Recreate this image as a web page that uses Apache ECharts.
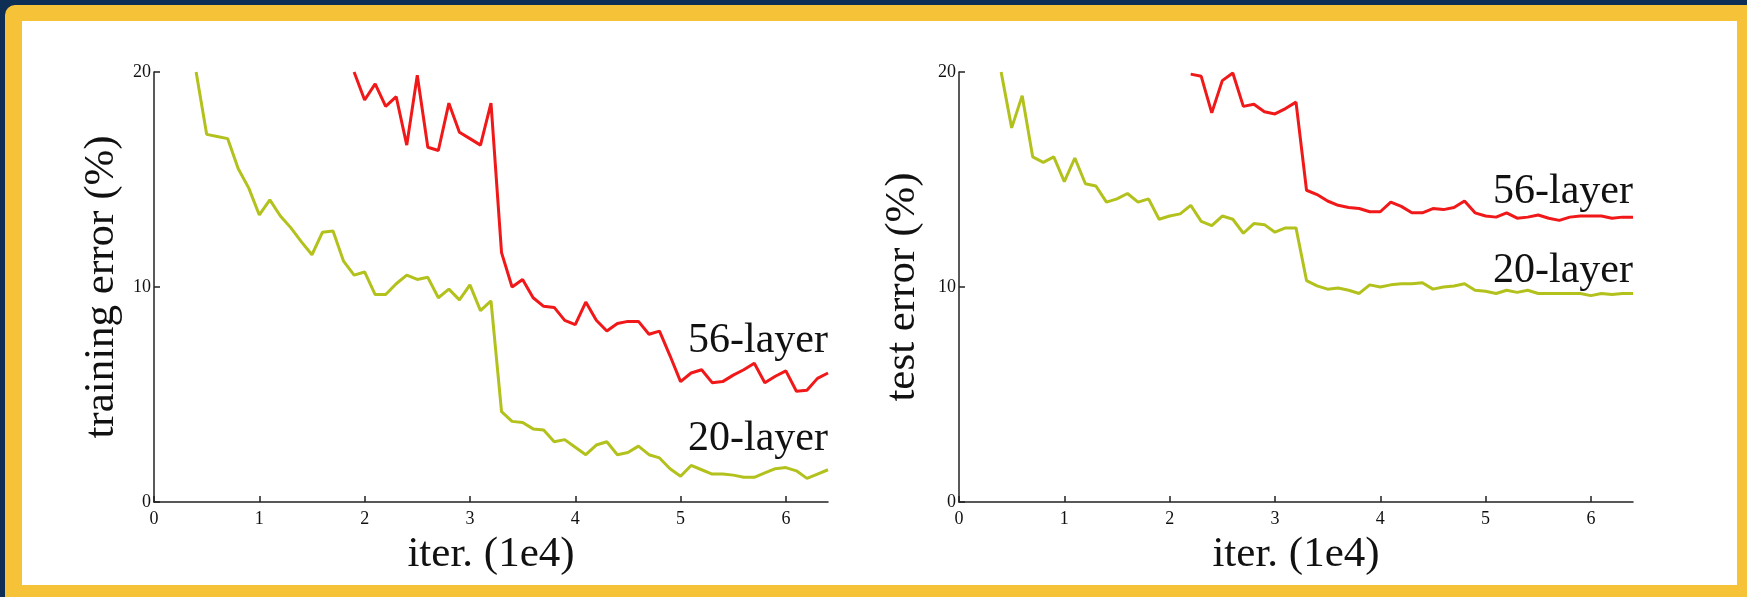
<!DOCTYPE html>
<html><head><meta charset="utf-8">
<script src="https://cdn.jsdelivr.net/npm/echarts@6/dist/echarts.min.js"></script>
<style>
html,body{margin:0;padding:0;width:1747px;height:597px;overflow:hidden;background:#0f2e55;}
#frame{position:absolute;left:5px;top:5px;width:1760px;height:610px;background:#f6c237;border-radius:10px;}
#chart{position:absolute;left:22px;top:21px;width:1715px;height:564px;background:#fff;}
</style></head><body><div id="frame"></div><div id="chart"></div>
<script>
// iterations (1e4)
const ITERS = [0.4,0.5,0.6,0.7,0.8,0.9,1.0,1.1,1.2,1.3,1.4,1.5,1.6,1.7,1.8,1.9,2.0,2.1,2.2,2.3,2.4,2.5,2.6,2.7,2.8,2.9,3.0,3.1,3.2,3.3,3.4,3.5,3.6,3.7,3.8,3.9,4.0,4.1,4.2,4.3,4.4,4.5,4.6,4.7,4.8,4.9,5.0,5.1,5.2,5.3,5.4,5.5,5.6,5.7,5.8,5.9,6.0,6.1,6.2,6.3,6.4];
// training error (%)
const TRAIN_20 = [20,17.1,17.0,16.9,15.5,14.6,13.35,14.05,13.3,12.75,12.1,11.5,12.55,12.6,11.2,10.55,10.7,9.65,9.65,10.15,10.55,10.35,10.45,9.5,9.9,9.4,10.1,8.9,9.35,4.2,3.75,3.7,3.4,3.35,2.8,2.9,2.55,2.2,2.65,2.8,2.2,2.3,2.6,2.2,2.05,1.55,1.2,1.7,1.5,1.3,1.3,1.25,1.15,1.15,1.35,1.55,1.6,1.45,1.1,1.3,1.5];
const TRAIN_56 = [null,null,null,null,null,null,null,null,null,null,null,null,null,null,null,20,18.7,19.45,18.4,18.85,16.6,19.85,16.5,16.35,18.55,17.2,16.9,16.6,18.55,11.6,10.0,10.35,9.5,9.1,9.05,8.45,8.25,9.3,8.45,7.95,8.3,8.4,8.4,7.8,7.95,6.8,5.6,6.0,6.15,5.55,5.6,5.9,6.15,6.45,5.55,5.85,6.1,5.15,5.2,5.75,6.0];
// test error (%)
const TEST_20 = [20,17.4,18.9,16.05,15.8,16.05,14.9,16.0,14.8,14.7,13.95,14.1,14.35,13.95,14.1,13.15,13.3,13.4,13.8,13.05,12.85,13.3,13.15,12.5,12.95,12.9,12.55,12.75,12.75,10.3,10.05,9.9,9.95,9.85,9.7,10.1,10.0,10.1,10.15,10.15,10.2,9.9,10.0,10.05,10.15,9.85,9.8,9.7,9.85,9.75,9.85,9.7,9.7,9.7,9.7,9.7,9.6,9.7,9.65,9.7,9.7];
const TEST_56 = [null,null,null,null,null,null,null,null,null,null,null,null,null,null,null,null,null,null,19.9,19.8,18.1,19.6,19.95,18.4,18.5,18.15,18.05,18.3,18.6,14.5,14.3,14.0,13.8,13.7,13.65,13.5,13.5,13.95,13.75,13.45,13.45,13.65,13.6,13.7,14.0,13.45,13.3,13.25,13.45,13.2,13.25,13.35,13.2,13.1,13.25,13.3,13.3,13.3,13.2,13.25,13.25];
const X_TICKS = [0,1,2,3,4,5,6];
const Y_TICKS = [0,10,20];
const SERIES_NAMES = ['20-layer','56-layer'];
const X_TITLE = 'iter. (1e4)';
const Y_TITLES = ['training error (%)','test error (%)'];

const RED = '#f01818', GREEN = '#b3c11d';
const FONT = "'Liberation Serif','Times New Roman',serif";

function pairs(ys){ const out=[]; ys.forEach((y,i)=>{ if(y!==null) out.push([ITERS[i],y]); }); return out; }

function xAxis(g){ return {
  type:'value', gridIndex:g, min:0, max:6.4, interval:1,
  name:X_TITLE, nameLocation:'middle', nameGap:26,
  nameTextStyle:{fontFamily:FONT,fontSize:43,color:'#111'},
  axisLine:{show:true,lineStyle:{color:'#222',width:1.5}},
  axisTick:{show:true,inside:true,length:6,lineStyle:{color:'#222',width:1.5}},
  axisLabel:{fontFamily:FONT,fontSize:18,color:'#111',margin:8,showMaxLabel:false,
    formatter:v=> X_TICKS.includes(v)?String(v):''},
  splitLine:{show:false}
};}
function yAxis(g,gap){ return {
  type:'value', gridIndex:g, min:0, max:20, interval:10,
  name:Y_TITLES[g], nameLocation:'middle', nameRotate:90, nameGap:gap,
  nameTextStyle:{fontFamily:FONT,fontSize:43,color:'#111'},
  axisLine:{show:true,lineStyle:{color:'#222',width:1.5}},
  axisTick:{show:true,inside:true,length:6,lineStyle:{color:'#222',width:1.5}},
  axisLabel:{fontFamily:FONT,fontSize:18,color:'#111',margin:3,
    formatter:v=> Y_TICKS.includes(v)?String(v):''},
  splitLine:{show:false}
};}
function line(name,ys,g,color,labelY){ return {
  type:'line', name, xAxisIndex:g, yAxisIndex:g, data:pairs(ys),
  showSymbol:false, symbol:'none', smooth:false, animation:false,
  lineStyle:{color,width:3}, itemStyle:{color}, clip:true,
  markPoint:{symbol:'circle',symbolSize:0,silent:true,animation:false,
    data:[{name,coord:[6.4,labelY]}],
    label:{show:true,formatter:p=>p.name,position:'left',distance:0,
      fontFamily:FONT,fontSize:42,color:'#111'}}
};}

const chart = echarts.init(document.getElementById('chart'),null,{renderer:'canvas'});
chart.setOption({
  backgroundColor:'#ffffff',
  animation:false,
  grid:[{left:132,top:51,width:674,height:430},{left:937,top:51,width:674,height:430}],
  xAxis:[xAxis(0),xAxis(1)],
  yAxis:[yAxis(0,31),yAxis(1,35)],
  series:[
    line(SERIES_NAMES[0],TRAIN_20,0,GREEN,2.93),
    line(SERIES_NAMES[1],TRAIN_56,0,RED,7.5),
    line(SERIES_NAMES[0],TEST_20,1,GREEN,10.75),
    line(SERIES_NAMES[1],TEST_56,1,RED,14.4)
  ]
});
</script></body></html>
